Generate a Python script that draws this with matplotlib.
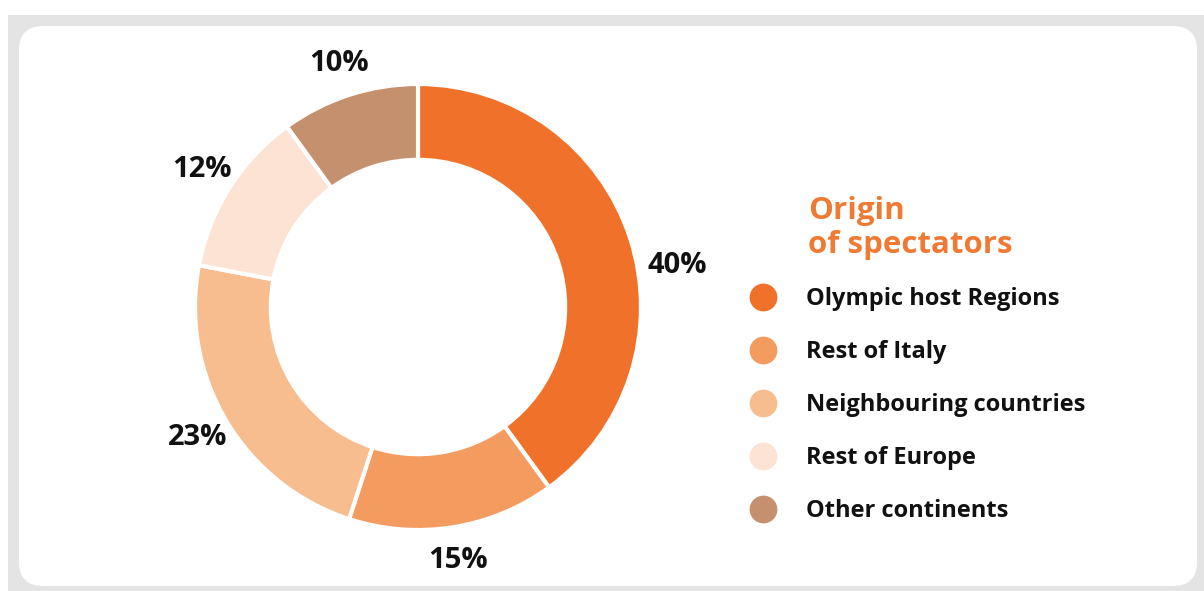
import matplotlib.pyplot as plt
from matplotlib.patches import Rectangle, FancyBboxPatch
from matplotlib.lines import Line2D

# origin of spectators (share, %)
categorie = ['Olympic host Regions', 'Rest of Italy', 'Neighbouring countries',
             'Rest of Europe', 'Other continents']
quote = [40, 15, 23, 12, 10]
etichette = ['40%', '15%', '23%', '12%', '10%']
colori = ['#F07129', '#F49B5F', '#F8BD8F', '#FCE3D3', '#C4906D']

W, H = 1204, 591
plt.rcParams['font.family'] = ['Open Sans', 'DejaVu Sans']

fig = plt.figure(figsize=(W / 100, H / 100), dpi=100)
fig.patch.set_facecolor('white')

# gray frame + white rounded card
fig.patches.append(Rectangle((8 / W, 0), 1, 1 - 15 / H, transform=fig.transFigure,
                             facecolor='#e4e4e4', edgecolor='none', zorder=-2))
fig.patches.append(FancyBboxPatch((19 / W, 5 / H), 1178 / W, 560 / H,
                                  boxstyle='round,pad=0,rounding_size=0.02',
                                  transform=fig.transFigure, facecolor='white',
                                  edgecolor='none', zorder=-1, mutation_aspect=W / H))

# donut
cx, cy, r = 418, 307, 223
ax = fig.add_axes([(cx - r) / W, (H - cy - r) / H, 2 * r / W, 2 * r / H], zorder=1)
wedges, testi = ax.pie(quote, colors=colori, labels=etichette, startangle=90,
                       counterclock=False, labeldistance=1.15,
                       wedgeprops=dict(width=0.34, edgecolor='white', linewidth=3),
                       textprops=dict(fontsize=21, fontweight='bold', color='#111111',
                                      ha='center', va='center'))
ax.set_xlim(-1, 1)
ax.set_ylim(-1, 1)
ax.set_aspect('equal')
ax.axis('off')
for t in testi:
    t.set_clip_on(False)
x, y = testi[0].get_position()
testi[0].set_position((x + 0.07, y - 0.17))

# legend title
fig.text(808 / W, 1 - 219 / H, 'Origin', fontsize=22.5, fontweight='bold',
         color='#EE7A33', ha='left', va='baseline')
fig.text(808 / W, 1 - 253 / H, 'of spectators', fontsize=22.5, fontweight='bold',
         color='#EE7A33', ha='left', va='baseline')

# legend
fs = 17
px = fs * 100 / 72
handles = [Line2D([], [], marker='o', linestyle='none', markersize=20,
                  markerfacecolor=c, markeredgecolor='none') for c in colori]
leg = fig.legend(handles, categorie, loc='upper left',
                 bbox_to_anchor=((763 - px / 2) / W, 1 - 287 / H), frameon=False,
                 prop=dict(size=fs, weight='bold'), labelspacing=1.23,
                 handlelength=1.0, handletextpad=(806 - 763 - px / 2) / px,
                 borderpad=0, borderaxespad=0)
for t in leg.get_texts():
    t.set_color('#111111')

fig.savefig('out.png', dpi=100)
